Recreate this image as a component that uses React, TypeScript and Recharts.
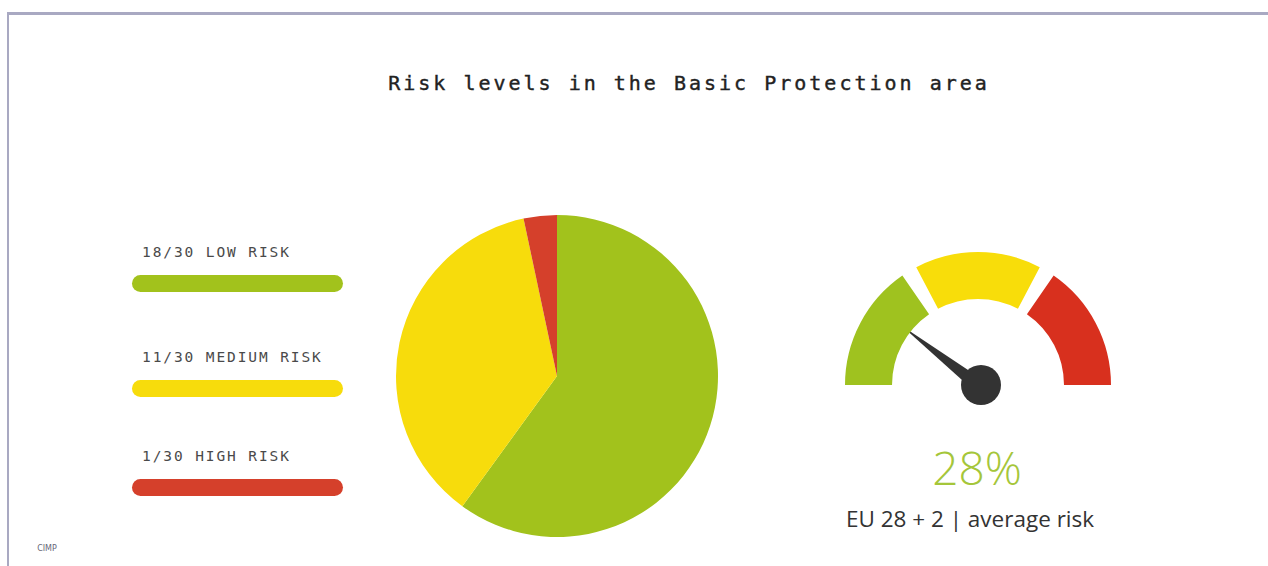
import { PieChart, Pie, Cell, Legend } from 'recharts';

const riskNames = ['LOW RISK', 'MEDIUM RISK', 'HIGH RISK'];
const riskCounts = [18, 11, 1];
const riskTotal = 30;
const riskColors = ['#a2c21c', '#f7dc0c', '#d5402b'];

const gaugeBands = [1, 1, 1];
const gaugeColors = ['#9fc21f', '#f8dd0a', '#d8301e'];
const gaugeNeedle = 21; // needle position as drawn, 0..100 across the dial
const averageRisk = '28%';
const averageLabel = 'EU 28 + 2 | average risk';

const title = 'Risk levels in the Basic Protection area';

const pieData = riskNames.map((name, i) => ({ name, value: riskCounts[i] }));
const gaugeData = gaugeBands.map((v, i) => ({ name: `band${i}`, value: v }));

const GAUGE_CX = 978;
const GAUGE_CY = 385;

const RiskLegend = () => (
  <svg width={230} height={270}>
    {riskNames.map((name, i) => (
      <g key={name}>
        <text
          x={17}
          y={22 + [0, 105, 204][i]}
          fontFamily="DejaVu Sans Mono"
          fontSize={14.5}
          letterSpacing={1.9}
          fill="#4a4a4a"
        >
          {`${riskCounts[i]}/${riskTotal} ${name}`}
        </text>
        <rect x={7} y={40 + [0, 105, 204][i]} width={211} height={17} rx={8.5} fill={riskColors[i]} />
      </g>
    ))}
  </svg>
);

const Needle = () => {
  const a = ((180 - gaugeNeedle * 1.8) * Math.PI) / 180;
  const len = 97;
  const half = 7;
  const tx = GAUGE_CX + len * Math.cos(a);
  const ty = GAUGE_CY - len * Math.sin(a);
  const px = Math.sin(a) * half;
  const py = Math.cos(a) * half;
  return (
    <g>
      <polygon
        points={`${tx},${ty} ${GAUGE_CX + px},${GAUGE_CY + py} ${GAUGE_CX - px},${GAUGE_CY - py}`}
        fill="#333"
      />
      <circle cx={GAUGE_CX + 3} cy={GAUGE_CY} r={20} fill="#333" />
    </g>
  );
};

export default function App() {
  return (
    <div style={{ position: 'absolute', left: 0, top: 0, width: 1268, height: 566, background: '#fff', overflow: 'hidden' }}>
      <div
        style={{
          position: 'absolute',
          left: 7,
          top: 12,
          width: 1268,
          height: 566,
          borderTop: '3px solid #a9a9c2',
          borderLeft: '2px solid #a9a9c2',
        }}
      />
      <div style={{ position: 'absolute', left: 0, top: 0 }}>
        <PieChart width={1268} height={566} margin={{ top: 0, right: 0, bottom: 0, left: 0 }}>
          <text
            x={689}
            y={90}
            textAnchor="middle"
            fontFamily="DejaVu Sans Mono"
            fontSize={20}
            letterSpacing={3}
            fill="#222"
            stroke="#222"
            strokeWidth={0.4}
          >
            {title}
          </text>
          <Pie
            data={pieData}
            dataKey="value"
            cx={557}
            cy={376}
            outerRadius={161}
            startAngle={90}
            endAngle={-270}
            stroke="none"
            isAnimationActive={false}
          >
            {pieData.map((d, i) => (
              <Cell key={d.name} fill={riskColors[i]} />
            ))}
          </Pie>
          <Pie
            data={gaugeData}
            dataKey="value"
            cx={GAUGE_CX}
            cy={GAUGE_CY}
            innerRadius={86}
            outerRadius={133}
            startAngle={180}
            endAngle={0}
            paddingAngle={7}
            stroke="none"
            isAnimationActive={false}
          >
            {gaugeData.map((d, i) => (
              <Cell key={d.name} fill={gaugeColors[i]} />
            ))}
          </Pie>
          <Needle />
          <text
            x={977}
            y={485}
            textAnchor="middle"
            fontFamily="Open Sans"
            fontWeight={300}
            fontSize={46}
            fill="#a5c63a"
          >
            {averageRisk}
          </text>
          <text x={970} y={527} textAnchor="middle" fontFamily="Open Sans" fontSize={22.5} fill="#333">
            {averageLabel}
          </text>
          <text x={47} y={551} textAnchor="middle" fontFamily="DejaVu Sans" fontSize={8} fill="#667">
            CIMP
          </text>
          <Legend
            content={<RiskLegend />}
            wrapperStyle={{ position: 'absolute', left: 125, top: 235, width: 230, height: 270 }}
          />
        </PieChart>
      </div>
    </div>
  );
}
